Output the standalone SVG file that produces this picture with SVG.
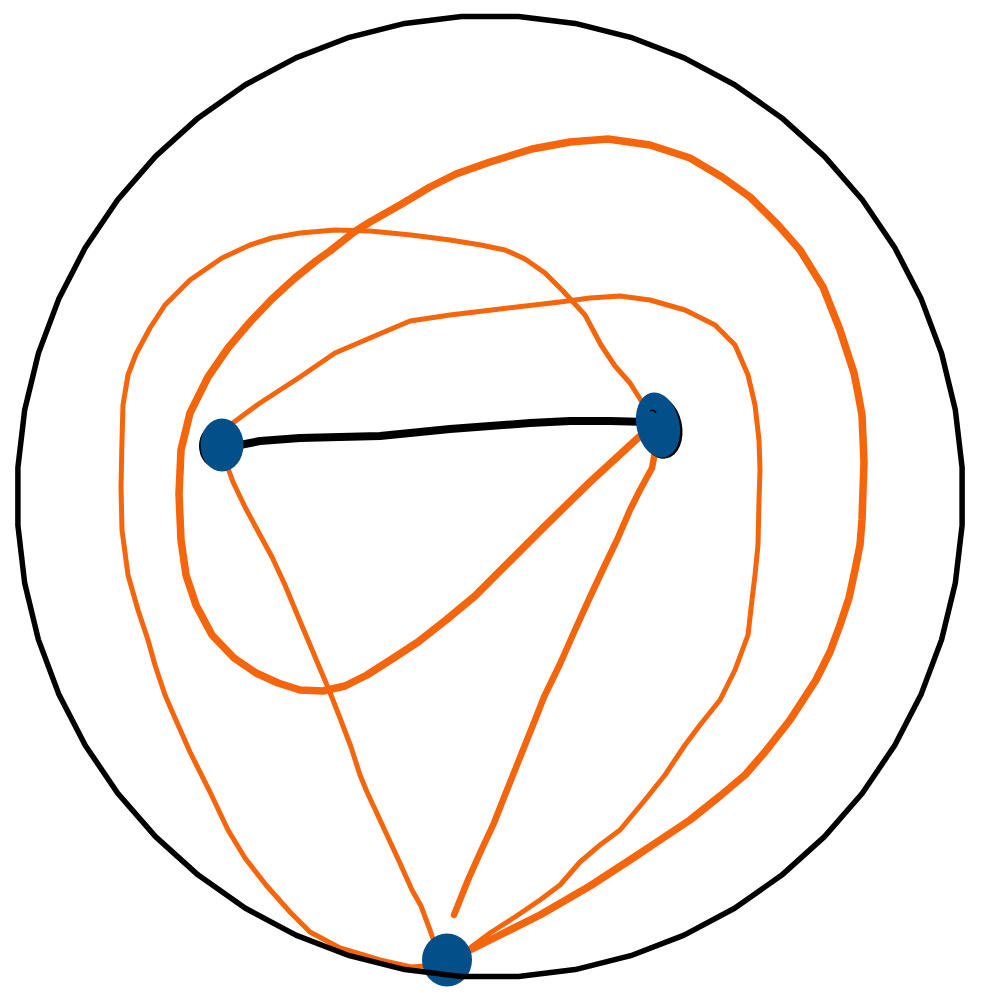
<svg xmlns="http://www.w3.org/2000/svg" width="990" height="995" viewBox="0 0 990 995">
<style>
.o{fill:none;stroke:#f5650c;stroke-linecap:round;stroke-linejoin:round}
.thin{stroke-width:5}
.mid{stroke-width:6.5}
.thick{stroke-width:7.5}
.node{fill:#024f89}
.edge{fill:none;stroke:#000;stroke-width:8;stroke-linecap:round;stroke-linejoin:round}
.ring{fill:none;stroke:#000;stroke-width:5.5;stroke-linejoin:round}
</style>
<rect width="990" height="995" fill="#fff"/>
<g id="connectors">
<path class="o thick" d="M470 950 L500 935 L540 915 L590 886 L633 858 L660 840 L690 820 L720 796 L745 775 L765 752 L790 720 L816 680 L830 652 L840 625 L849 598 L855 570 L860 545 L862 520 L864 462 L863 438 L862 415 L858 393 L854 373 L840 330 L823 287 L800 250 L778 225 L750 197 L722 177 L690 158 L650 145 L608 139 L570 142 L532 149 L490 162 L456 174 L430 187 L400 205 L370 222 L354 232 L330 251 L316 261 L295 278 L272 299 L250 322 L228 348 L208 377 L190 413 L181 450 L179 494 L181 540 L186 575 L196 605 L212 635 L234 658 L256 673 L278 683 L300 690 L323 691 L345 686 L367 675 L392 659 L418 642 L446 620 L475 596 L510 561 L544 527 L590 482 L639 437"/>
<path class="o thin" d="M230 425 L260 403 L300 377 L335 353 L370 338 L410 321 L450 315 L500 309 L560 302 L590 298 L620 296 L650 300 L685 310 L715 325 L735 345 L748 375 L755 405 L759 440 L760 470 L759 500 L758 545 L755 575 L752 600 L748 635 L735 670 L720 700 L700 725 L685 745 L665 775 L645 800 L620 830 L600 845 L580 862 L560 885 L540 900 L515 917 L490 933 L470 948"/>
<path class="o thin" d="M425 966 L411 967 L380 960 L340 948 L310 932 L290 912 L266 885 L245 858 L228 830 L210 792 L190 752 L175 718 L165 695 L155 665 L148 640 L138 610 L128 575 L122 530 L121 487 L122 440 L123 405 L128 375 L136 354 L150 328 L165 305 L190 280 L222 258 L250 245 L272 238 L300 233 L335 230 L370 231 L411 235 L450 240 L481 245 L505 250 L525 259 L545 273 L563 291 L585 315 L601 345 L615 366 L630 383 L642 402"/>
<path class="o thin" d="M225 460 L233 482 L245 507 L260 535 L272 557 L285 585 L297 614 L313 652 L329 690 L340 718 L351 747 L360 775 L367 792 L380 820 L399 861 L412 890 L421 906 L430 930 L436 948"/>
<path class="o mid" d="M655 452 L652 468 L640 490 L630 510 L617 540 L605 565 L590 597 L575 630 L560 664 L544 697 L535 720 L519 760 L505 795 L494 823 L480 853 L468 880 L454 915"/>
<path class="edge" d="M240 445 L260 441 L300 438 L340 437 L380 436 L410 433 L450 429 L490 426 L530 423 L570 421 L610 421 L648 422"/>
</g>
<g id="node1">
<ellipse cx="217" cy="446" rx="18" ry="22" fill="#000"/>
<ellipse class="node" cx="222" cy="445" rx="21.5" ry="26.5"/>
</g>
<g id="node2">
<ellipse cx="660" cy="427" rx="22" ry="32" transform="rotate(-12 660 427)" fill="#000"/>
<ellipse class="node" cx="658" cy="425" rx="21.5" ry="33" transform="rotate(-12 658 425)"/>
<path d="M650 411 Q654 409 656 413" fill="none" stroke="#000" stroke-width="1.5"/>
</g>
<g id="node3">
<ellipse class="node" cx="447" cy="960" rx="25" ry="26.5"/>
</g>
<g id="ring">
<polygon class="ring" points="461.5,16.4 518.5,16.4 575.2,23.4 630.7,37.3 684.1,57.9 734.6,84.8 781.8,117.9 824.5,156.4 862.3,199.8 894.8,247.7 921.3,299.1 941.6,353.4 955.3,409.8 962.1,467.5 962.1,525.5 955.3,583.2 941.6,639.6 921.3,693.9 894.8,745.3 862.3,793.2 824.5,836.6 781.8,875.1 734.6,908.2 684.1,935.1 630.7,955.7 575.2,969.6 518.5,976.6 461.5,976.6 404.8,969.6 349.3,955.7 295.9,935.1 245.4,908.2 198.2,875.1 155.5,836.6 117.7,793.2 85.2,745.3 58.7,693.9 38.4,639.6 24.7,583.2 17.9,525.5 17.9,467.5 24.7,409.8 38.4,353.4 58.7,299.1 85.2,247.7 117.7,199.8 155.5,156.4 198.2,117.9 245.4,84.8 295.9,57.9 349.3,37.3 404.8,23.4"/>
</g>
</svg>
